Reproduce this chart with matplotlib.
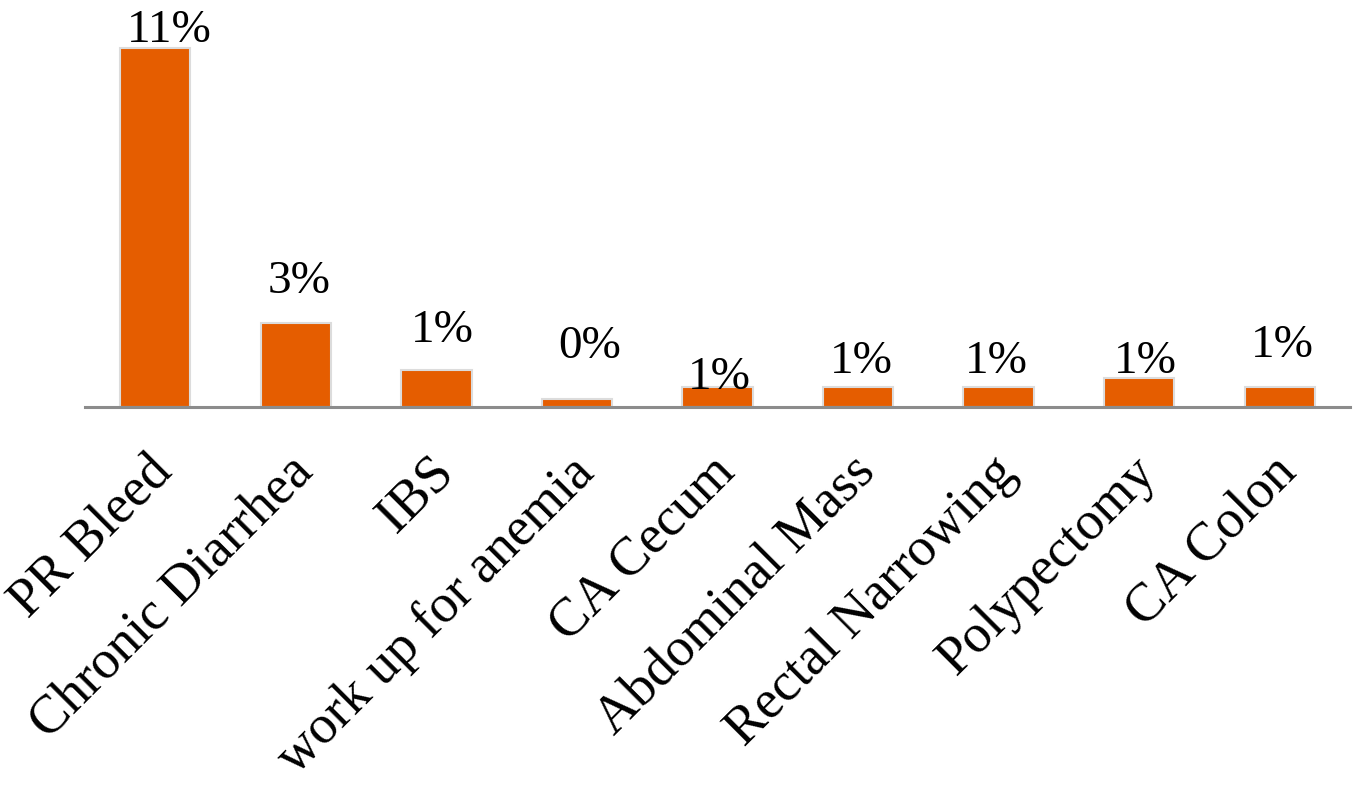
import matplotlib
matplotlib.use("Agg")
import matplotlib.pyplot as plt
from matplotlib.transforms import ScaledTranslation

# ---- data ----
categories = ["PR Bleed", "Chronic Diarrhea", "IBS", "work up for anemia",
              "CA Cecum", "Abdominal Mass", "Rectal Narrowing",
              "Polypectomy", "CA Colon"]
values = [11.0, 2.58, 1.13, 0.25, 0.61, 0.61, 0.61, 0.89, 0.61]

# ---- layout (label offsets in pixels: dx from bar centre, dy baseline above bar top) ----
label_dx = [14, 3, 6, 13, 2, 3, -2, 6, 3]
label_dy = [6, 30, 28, 41, -2, 14, 14, 5, 30]

W, H, DPI = 1354, 789, 100
fig = plt.figure(figsize=(W / DPI, H / DPI), dpi=DPI)
ax = fig.add_axes([85 / W, (H - 407) / H, (1350 - 85) / W, (407 - 40) / H])

bar_color = "#E55D00"
x = list(range(len(categories)))
bars = ax.bar(x, values, width=0.5, color=bar_color,
              edgecolor="#dcdcdc", linewidth=1.5, zorder=2)

ax.set_xlim(-0.5, len(categories) - 0.5)
ax.set_ylim(0, 11.25)

for spine in ["top", "right", "left"]:
    ax.spines[spine].set_visible(False)
ax.spines["bottom"].set_color("#8c8c8c")
ax.spines["bottom"].set_linewidth(2.2)
ax.spines["bottom"].set_zorder(3)
ax.set_yticks([])

serif = ["Liberation Serif", "DejaVu Serif"]

ax.set_xticks(x)
ax.set_xticklabels(categories, rotation=45, ha="right", va="top",
                   rotation_mode="anchor", fontsize=39, family=serif)
ax.tick_params(axis="x", length=0, pad=0)
offset = ScaledTranslation(-8 / DPI, -40 / DPI, fig.dpi_scale_trans)
for lbl in ax.get_xticklabels():
    lbl.set_transform(lbl.get_transform() + offset)

for i, v in enumerate(values):
    ax.annotate(f"{v:.0f}%", xy=(i, v), xytext=(label_dx[i], label_dy[i]),
                textcoords="offset pixels", ha="center", va="baseline",
                fontsize=34, family=serif, color="black", zorder=4)

fig.savefig("out.png", dpi=DPI, facecolor="white")
